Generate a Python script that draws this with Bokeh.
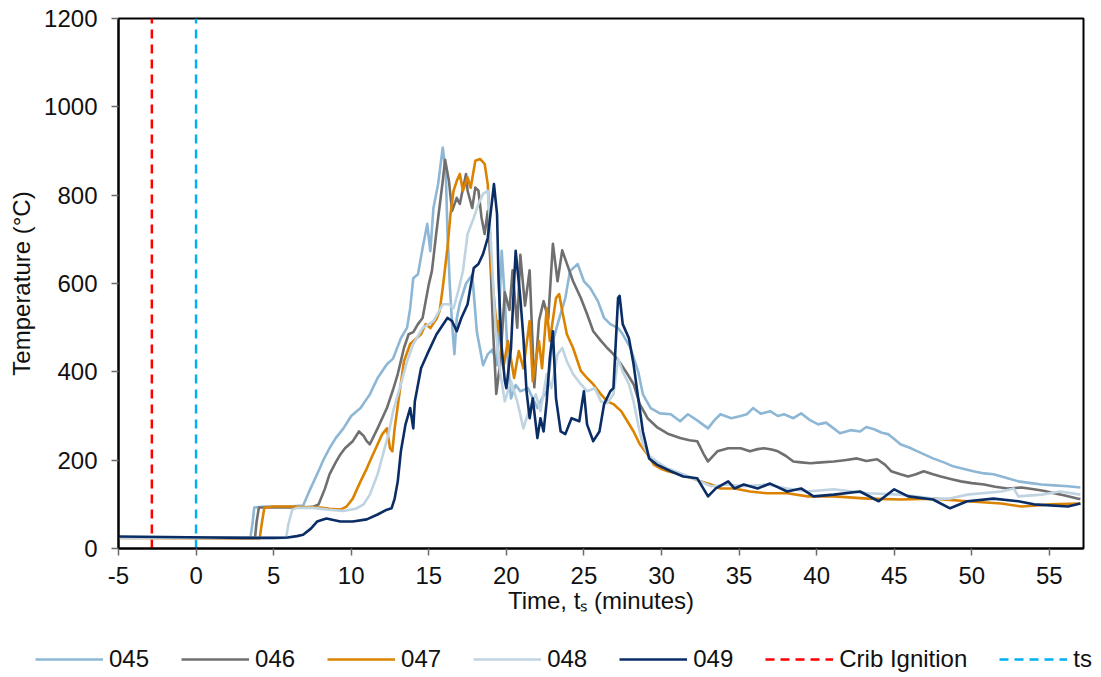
from bokeh.plotting import figure
from bokeh.layouts import column
from bokeh.models import Legend, LegendItem, Range1d, FixedTicker
from bokeh.embed import file_html
from bokeh.resources import INLINE

# ---------------- data ----------------
t045 = [-5, -2, 1, 3.5, 3.65, 3.75, 4.5, 6.0, 6.9, 7.3, 7.8, 8.2, 8.6, 9.0, 9.5, 10.0, 10.6, 11.2, 11.7, 12.3,
        12.7, 13.2, 13.6, 13.8, 14.0, 14.3, 14.6, 14.9, 15.1, 15.3, 15.6, 15.9, 16.1, 16.2, 16.35, 16.5, 16.65,
        16.8, 17.0, 17.4, 17.8, 18.1, 18.5, 18.8, 19.1, 19.4, 19.7, 19.9, 20.1, 20.3, 20.6, 20.9, 21.4, 21.7,
        22.0, 22.3, 22.6, 23.0, 23.4, 23.8, 24.1, 24.6, 25.0, 25.4, 25.9, 26.3, 26.7, 27.2, 27.5, 28.0, 28.5,
        28.8, 29.3, 29.9, 30.6, 31.2, 31.7, 32.3, 33.0, 33.4, 33.8, 34.5, 35.1, 35.5, 35.9, 36.4, 37.0, 37.5,
        37.9, 38.5, 39.0, 39.6, 40.1, 40.6, 41.1, 41.5, 42.2, 42.8, 43.2, 43.7, 44.2, 44.6, 45.0, 45.4, 46.0,
        46.5, 47.0, 47.5, 48.2, 48.8, 49.5, 50.1, 50.8, 51.4, 52.2, 53.0, 53.8, 54.5, 55.3, 56.2, 57.0]
v045 = [25, 25, 24, 24, 60, 93, 95, 95, 97, 130, 168, 200, 227, 250, 272, 300, 318, 349, 386, 417,
        430, 476, 500, 544, 612, 621, 680, 735, 673, 771, 825, 908, 848, 719, 600, 508, 440,
        520, 555, 600, 620, 490, 415, 440, 450, 415, 674, 567, 424, 340, 370, 356, 363, 340,
        318, 340, 356, 470, 520, 567, 628, 644, 605, 590, 560, 522, 508, 499, 485, 454, 400,
        349, 318, 306, 304, 288, 304, 290, 272, 290, 304, 295, 300, 304, 318, 305, 311, 300,
        304, 295, 306, 290, 281, 285, 272, 261, 268, 265, 275, 270, 262, 259, 248, 236, 228,
        220, 212, 204, 195, 186, 180, 175, 170, 168, 160, 152, 148, 145, 143, 141, 138]

t046 = [-5, 3.8, 3.9, 4.05, 5, 7.0, 7.6, 7.9, 8.3, 8.6, 9.0, 9.3, 9.6, 10.1, 10.5, 10.8, 11.0, 11.2, 11.7,
        12.3, 12.7, 13.0, 13.4, 13.7, 14.0, 14.3, 14.6, 15.0, 15.2, 15.5, 15.9, 16.05, 16.3, 16.5, 16.8, 17.0,
        17.4, 17.5, 17.8, 18.0, 18.2, 18.4, 18.6, 18.8, 19.0, 19.15, 19.35, 19.6, 19.9, 20.2, 20.4, 20.7, 20.9,
        21.2, 21.5, 21.8, 22.1, 22.4, 22.7, 23.0, 23.3, 23.6, 23.9, 24.3, 24.8, 25.2, 25.6, 26.1, 26.5, 26.9,
        27.4, 27.8, 28.2, 28.6, 29.1, 29.7, 30.4, 31.2, 31.8, 32.3, 32.7, 33.0, 33.6, 34.3, 35.1, 35.7, 36.2,
        36.6, 37.1, 37.5, 38.0, 38.5, 39.0, 39.6, 40.3, 41.1, 41.8, 42.6, 43.2, 43.9, 44.4, 44.8, 45.4, 45.9,
        46.4, 46.9, 47.5, 48.0, 48.7, 49.3, 50.0, 50.8, 51.5, 52.3, 53.2, 54.0, 54.7, 55.3, 56.0, 56.8, 57.0]
v046 = [25, 24, 60, 93, 93, 93, 95, 100, 135, 168, 195, 213, 227, 243, 265, 255, 243, 236, 272,
        318, 360, 395, 454, 485, 490, 508, 522, 598, 628, 719, 832, 880, 832, 764, 794, 780,
        848, 810, 771, 817, 810, 749, 712, 764, 628, 490, 350, 420, 580, 540, 630, 500, 665,
        550, 630, 365, 515, 560, 520, 690, 605, 675, 645, 605, 567, 531, 492, 470, 454, 440,
        417, 395, 372, 327, 295, 275, 260, 250, 245, 243, 215, 197, 220, 227, 227, 220, 225,
        227, 224, 220, 210, 197, 195, 193, 195, 197, 200, 204, 198, 202, 190, 175, 168, 163,
        168, 175, 168, 163, 157, 152, 148, 145, 140, 136, 138, 134, 130, 125, 120, 113, 112]

t047 = [-5, 4.1, 4.25, 4.4, 5, 6, 7, 8, 8.6, 9.3, 9.7, 10.1, 10.6, 11.0, 11.4, 12.0, 12.3, 12.5, 12.65,
        12.8, 13.1, 13.4, 13.8, 14.5, 14.8, 15.1, 15.5, 15.7, 15.9, 16.2, 16.4, 16.6, 16.8, 17.0, 17.2, 17.5,
        17.7, 18.0, 18.3, 18.6, 18.8, 18.9, 19.0, 19.2, 19.4, 19.5, 19.8, 20.1, 20.5, 20.8, 21.1, 21.5, 21.7,
        22.1, 22.3, 22.6, 22.8, 23.2, 23.4, 23.6, 23.9, 24.3, 24.8, 25.2, 25.6, 26.1, 26.5, 26.9, 27.4, 27.8,
        28.2, 28.6, 29.1, 29.5, 30.0, 30.4, 31.0, 31.7, 32.5, 33.2, 33.8, 34.7, 35.7, 36.8, 38.1, 39.4, 41.1,
        43.3, 45.4, 47.5, 49.7, 51.9, 53.2, 55.1, 57.0]
v047 = [24, 23, 60, 92, 95, 95, 94, 93, 90, 88, 95, 113, 152, 181, 213, 259, 272, 227, 220,
        272, 349, 424, 463, 485, 508, 499, 520, 538, 590, 680, 757, 810, 832, 848, 810, 840,
        817, 878, 882, 871, 825, 757, 644, 567, 492, 515, 408, 470, 386, 447, 408, 515, 379,
        470, 408, 544, 470, 567, 576, 538, 485, 454, 402, 386, 372, 349, 333, 327, 311, 288,
        265, 236, 213, 190, 180, 175, 170, 163, 152, 145, 136, 136, 129, 125, 125, 118, 118,
        113, 111, 113, 107, 102, 95, 100, 102]

t048 = [-5, 5.8, 5.95, 6.2, 6.5, 7.5, 8.5, 9.5, 10.3, 10.8, 11.2, 11.7, 12.1, 12.4, 12.7, 13.2, 13.6, 14.0,
        14.6, 15.3, 15.9, 16.3, 16.6, 16.9, 17.2, 17.5, 17.9, 18.2, 18.5, 18.8, 18.9, 19.0, 19.3, 19.6, 19.9,
        20.3, 20.7, 21.1, 21.5, 21.9, 22.2, 22.6, 22.9, 23.3, 23.6, 23.9, 24.3, 24.8, 25.2, 25.7, 26.1, 26.5,
        26.9, 27.2, 27.5, 27.9, 28.2, 28.5, 28.8, 29.2, 29.7, 30.4, 31.4, 32.5, 33.2, 34.3, 35.3, 36.8, 38.1,
        39.4, 41.1, 43.3, 45.4, 47.5, 48.6, 49.7, 51.9, 52.7, 53.0, 54.5, 55.7, 57.0]
v048 = [24, 24, 55, 88, 92, 92, 88, 85, 90, 100, 122, 168, 220, 259, 311, 372, 424, 463,
        499, 515, 553, 553, 544, 583, 628, 712, 749, 780, 803, 810, 757, 696, 500, 400, 333,
        379, 333, 272, 318, 349, 311, 395, 363, 440, 454, 424, 395, 372, 356, 363, 333, 329,
        349, 430, 400, 372, 333, 280, 235, 210, 197, 181, 168, 152, 141, 145, 141, 145, 136,
        129, 134, 125, 122, 113, 113, 122, 129, 136, 118, 122, 129, 122]

t049 = [-5, -2, 1, 3, 5, 5.9, 6.5, 6.9, 7.4, 7.8, 8.4, 9.3, 10.1, 11.0, 11.7, 12.3, 12.6, 12.8, 13.0, 13.2,
        13.5, 13.8, 14.0, 14.1, 14.5, 14.9, 15.5, 16.2, 16.5, 16.8, 17.1, 17.5, 17.9, 18.2, 18.5, 18.8, 19.1,
        19.2, 19.4, 19.5, 19.7, 19.9, 20.0, 20.3, 20.5, 20.6, 20.9, 21.1, 21.3, 21.5, 21.7, 22.0, 22.2, 22.4,
        22.6, 22.8, 23.0, 23.2, 23.5, 23.8, 24.2, 24.7, 25.0, 25.2, 25.6, 26.0, 26.3, 26.7, 26.9, 27.2, 27.3,
        27.5, 27.9, 28.2, 28.5, 28.8, 29.2, 29.7, 30.6, 31.4, 32.3, 33.0, 33.5, 34.3, 34.7, 35.3, 36.2, 37.0,
        38.1, 39.0, 39.8, 41.1, 42.8, 44.0, 45.0, 45.9, 47.5, 48.6, 49.7, 51.4, 53.0, 54.0, 56.2, 57.0]
v049 = [27, 26, 25, 24, 24, 25, 28, 31, 45, 61, 68, 61, 61, 66, 77, 88, 91, 113, 152, 220,
        281, 318, 272, 333, 408, 440, 485, 522, 515, 492, 522, 553, 635, 644, 667, 703, 794,
        825, 757, 605, 454, 380, 363, 454, 605, 674, 567, 476, 356, 295, 340, 250, 295, 265,
        333, 431, 492, 340, 265, 259, 295, 288, 356, 281, 243, 265, 327, 356, 363, 567, 572,
        508, 476, 417, 340, 265, 204, 190, 175, 163, 159, 118, 136, 152, 136, 145, 136, 147,
        129, 136, 118, 122, 129, 107, 134, 118, 111, 91, 107, 113, 107, 100, 95, 102]

crib_ignition_t = -2.85
ts_t = 0.0
series_names = ["045", "046", "047", "048", "049"]
x_ticks = [-5, 0, 5, 10, 15, 20, 25, 30, 35, 40, 45, 50, 55]
y_ticks = [0, 200, 400, 600, 800, 1000, 1200]

# ---------------- styles ----------------
colors = ["#8DB7D5", "#6F6F6F", "#DB8300", "#BFD3E1", "#0B2D66"]
crib_color = "#FF0000"
ts_color = "#00B0F0"
FONT = "Liberation Sans"
TXT = "#111111"
W = 1101
H_MAIN = 620
H_BOT = 677 - H_MAIN

p = figure(width=W, height=H_MAIN, output_backend="svg", toolbar_location=None,
           x_range=Range1d(-5, 57.2), y_range=Range1d(0, 1200),
           min_border_left=118, min_border_right=18, min_border_top=18, min_border_bottom=72)
p.frame_align = False

p.xgrid.visible = False
p.ygrid.visible = False
p.outline_line_color = "black"
p.outline_line_width = 2
p.background_fill_color = "white"
p.border_fill_color = "white"

p.xaxis.ticker = FixedTicker(ticks=x_ticks)
p.yaxis.ticker = FixedTicker(ticks=y_ticks)
p.xaxis.major_label_overrides = {-5: "-5"}
for ax in (p.xaxis[0], p.yaxis[0]):
    ax.axis_line_color = "black"
    ax.axis_line_width = 2
    ax.major_tick_line_color = "#6b6b6b"
    ax.major_tick_line_width = 1.5
    ax.major_tick_out = 7
    ax.major_tick_in = 0
    ax.minor_tick_line_color = None
    ax.major_label_text_font = FONT
    ax.major_label_text_font_size = "24px"
    ax.major_label_text_color = TXT
    ax.axis_label_text_font = FONT
    ax.axis_label_text_font_size = "24px"
    ax.axis_label_text_font_style = "normal"
    ax.axis_label_text_color = TXT
p.yaxis.major_label_standoff = 14
p.xaxis.major_label_standoff = 11
p.yaxis.axis_label = "Temperature (°C)"
p.yaxis.axis_label_standoff = 6
p.xaxis.axis_label = "Time, t\u209b (minutes)"
p.xaxis.axis_label_standoff = 0

# dashed reference lines
p.line([crib_ignition_t, crib_ignition_t], [0, 1200], line_color=crib_color,
       line_width=2.5, line_dash="9 6")
p.line([ts_t, ts_t], [0, 1200], line_color=ts_color, line_width=2.5, line_dash="9 6")

for tt, vv, c in zip([t045, t046, t047, t048, t049], [v045, v046, v047, v048, v049], colors):
    p.line(tt, vv, line_color=c, line_width=2.6, line_join="round")

# ---------------- bottom strip: legend ----------------
b = figure(width=W, height=H_BOT, output_backend="svg", toolbar_location=None,
           x_range=Range1d(0, W), y_range=Range1d(0, H_BOT),
           x_axis_type=None, y_axis_type=None,
           min_border_left=0, min_border_right=0, min_border_top=0, min_border_bottom=0)
b.frame_align = False
b.xgrid.visible = False
b.ygrid.visible = False
b.outline_line_color = None
b.background_fill_color = "white"
b.border_fill_color = "white"

# legend proxies (drawn outside the visible range; only their styles are used)
items = []
for name, c in zip(series_names, colors):
    r = b.line([-50, -40], [-50, -50], line_color=c, line_width=2.6)
    items.append(LegendItem(label=name, renderers=[r]))
r_c = b.line([-50, -40], [-50, -50], line_color=crib_color, line_width=2.5, line_dash="9 6")
items.append(LegendItem(label="Crib Ignition", renderers=[r_c]))
r_t = b.line([-50, -40], [-50, -50], line_color=ts_color, line_width=2.5, line_dash="9 6")
items.append(LegendItem(label="ts", renderers=[r_t]))

legend = Legend(items=items, orientation="horizontal", location=(35, 4),
                glyph_width=68, glyph_height=20, label_standoff=6, spacing=32,
                padding=0, margin=0, border_line_alpha=0, background_fill_alpha=0,
                label_text_font=FONT, label_text_font_size="24px", label_text_color=TXT)
b.add_layout(legend, "center")

layout = column(p, b, spacing=0)
open("out.html", "w").write(file_html(layout, INLINE))
